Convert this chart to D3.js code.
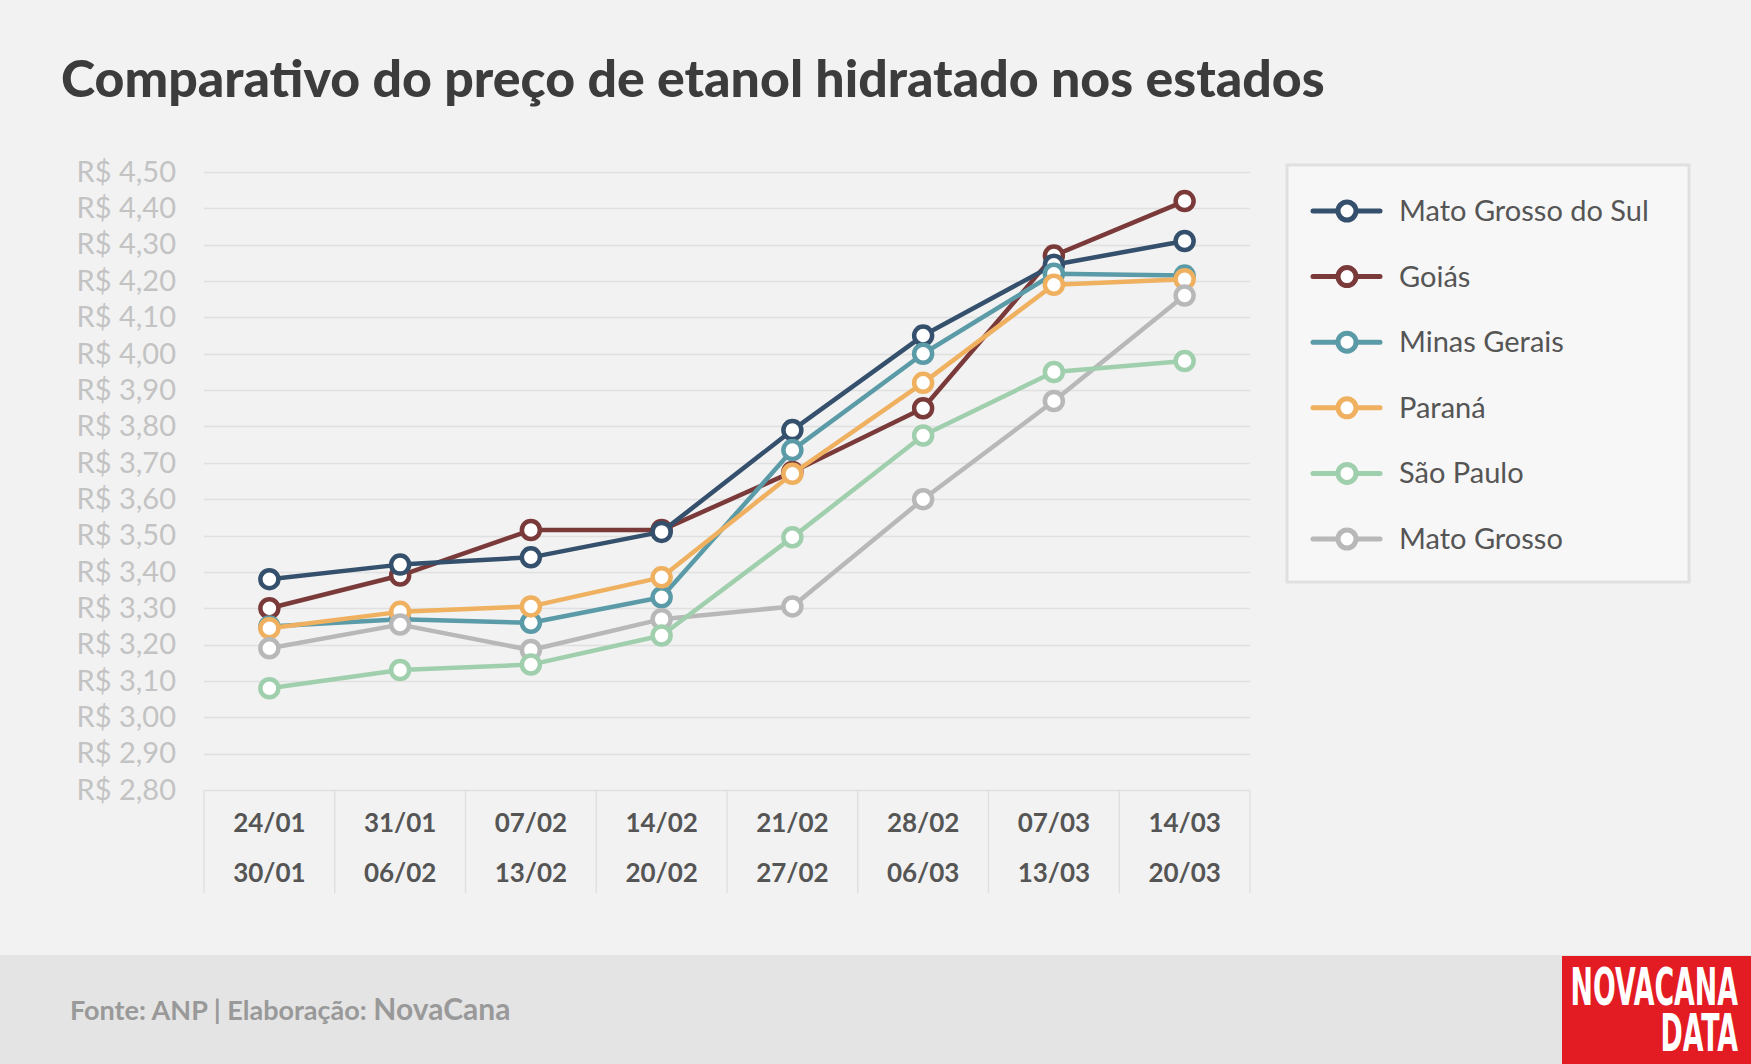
<!DOCTYPE html>
<html>
<head>
<meta charset="utf-8">
<script src="https://cdn.jsdelivr.net/npm/d3@7"></script>
<style>
  html, body { margin: 0; padding: 0; background: #f2f2f2; }
  svg { display: block; font-family: Lato, "Open Sans", sans-serif; }
</style>
</head>
<body>
<div id="chart"></div>
<script>
var w = 1751;
var h = 1064;

// categorias (semanas)
var weekStart = ["24/01", "31/01", "07/02", "14/02", "21/02", "28/02", "07/03", "14/03"];
var weekEnd = ["30/01", "06/02", "13/02", "20/02", "27/02", "06/03", "13/03", "20/03"];

// precos por estado (R$/litro)
var matoGrossoDoSul = [3.38, 3.42, 3.44, 3.51, 3.79, 4.05, 4.245, 4.31];
var goias = [3.30, 3.39, 3.515, 3.515, 3.675, 3.85, 4.27, 4.42];
var minasGerais = [3.25, 3.27, 3.26, 3.33, 3.735, 4.00, 4.22, 4.215];
var parana = [3.245, 3.29, 3.305, 3.385, 3.67, 3.92, 4.19, 4.205];
var saoPaulo = [3.08, 3.13, 3.145, 3.225, 3.495, 3.775, 3.95, 3.98];
var matoGrosso = [3.19, 3.255, 3.185, 3.27, 3.305, 3.60, 3.87, 4.16];

var yTicks = [2.8, 2.9, 3.0, 3.1, 3.2, 3.3, 3.4, 3.5, 3.6, 3.7, 3.8, 3.9, 4.0, 4.1, 4.2, 4.3, 4.4, 4.5];

var series = [
    {name: "Mato Grosso do Sul", values: matoGrossoDoSul, color: "#34506c"},
    {name: "Goiás", values: goias, color: "#7b3a3a"},
    {name: "Minas Gerais", values: minasGerais, color: "#5b9ba7"},
    {name: "Paraná", values: parana, color: "#efb05f"},
    {name: "São Paulo", values: saoPaulo, color: "#a0cfad"},
    {name: "Mato Grosso", values: matoGrosso, color: "#b8b8b8"}
];
// ordem de desenho (a ultima fica por cima)
var drawOrder = [1, 0, 2, 3, 5, 4];

var svg = d3.select("#chart").append("svg").attr("width", w).attr("height", h);
svg.append("rect").attr("width", w).attr("height", h).attr("fill", "#f2f2f2");

// titulo
svg.append("text")
    .attr("x", 61).attr("y", 97)
    .attr("font-size", 51.8).attr("font-weight", 900)
    .attr("fill", "#3c3c3c")
    .text("Comparativo do preço de etanol hidratado nos estados");

var x = d3.scaleBand().domain(weekStart).range([204, 1250]);
var y = d3.scaleLinear().domain([2.8, 4.5]).range([790, 172]);

// grade
svg.append("g").selectAll("line").data(yTicks).enter()
    .append("line")
    .attr("x1", 204).attr("x2", 1250)
    .attr("y1", function (d) { return Math.round(y(d)) + 0.5; })
    .attr("y2", function (d) { return Math.round(y(d)) + 0.5; })
    .attr("stroke", "#e0e0e0").attr("stroke-width", 1.5);

// eixo y
var yAxis = d3.axisLeft(y).tickValues(yTicks).tickSize(0).tickPadding(0)
    .tickFormat(function (d) { return "R$ " + d3.format(".2f")(d).replace(".", ","); });
var gy = svg.append("g").attr("transform", "translate(176,0)").call(yAxis);
gy.select(".domain").remove();
gy.selectAll("text")
    .attr("font-family", "Lato, sans-serif")
    .attr("font-size", 29).attr("fill", "#c3c3c3");

// eixo x (caixa com separadores)
var bounds = weekStart.map(function (d) { return x(d); }).concat([x.range()[1]]);
svg.append("g").selectAll("line").data(bounds).enter()
    .append("line")
    .attr("x1", function (d) { return d; }).attr("x2", function (d) { return d; })
    .attr("y1", 790).attr("y2", 893)
    .attr("stroke", "#e0e0e0").attr("stroke-width", 1.5);

var gx = svg.append("g");
gx.selectAll("text.l1").data(weekStart).enter().append("text")
    .attr("class", "l1")
    .attr("x", function (d) { return x(d) + x.bandwidth() / 2; })
    .attr("y", 832)
    .attr("text-anchor", "middle").attr("font-size", 26).attr("font-weight", 700)
    .attr("fill", "#555").text(function (d) { return d; });
gx.selectAll("text.l2").data(weekEnd).enter().append("text")
    .attr("class", "l2")
    .attr("x", function (d, i) { return x(weekStart[i]) + x.bandwidth() / 2; })
    .attr("y", 882)
    .attr("text-anchor", "middle").attr("font-size", 26).attr("font-weight", 700)
    .attr("fill", "#555").text(function (d) { return d; });

// linhas
var line = d3.line()
    .x(function (d, i) { return x(weekStart[i]) + x.bandwidth() / 2; })
    .y(function (d) { return y(d); });

drawOrder.forEach(function (k) {
    var s = series[k];
    var g = svg.append("g");
    g.append("path").datum(s.values)
        .attr("d", line).attr("fill", "none")
        .attr("stroke", s.color).attr("stroke-width", 4.5)
        .attr("stroke-linejoin", "round");
    g.selectAll("circle").data(s.values).enter().append("circle")
        .attr("cx", function (d, i) { return x(weekStart[i]) + x.bandwidth() / 2; })
        .attr("cy", function (d) { return y(d); })
        .attr("r", 9)
        .attr("fill", "#fff").attr("stroke", s.color).attr("stroke-width", 4.5);
});

// legenda
var legend = svg.append("g");
legend.append("rect")
    .attr("x", 1287).attr("y", 165).attr("width", 402).attr("height", 417)
    .attr("fill", "#f7f7f7").attr("stroke", "#e0e0e0").attr("stroke-width", 3);
var items = legend.selectAll("g.item").data(series).enter().append("g")
    .attr("class", "item")
    .attr("transform", function (d, i) { return "translate(0," + (211 + i * 65.6) + ")"; });
items.append("line")
    .attr("x1", 1313).attr("x2", 1380).attr("y1", 0).attr("y2", 0)
    .attr("stroke", function (d) { return d.color; }).attr("stroke-width", 5)
    .attr("stroke-linecap", "round");
items.append("circle")
    .attr("cx", 1347).attr("cy", 0).attr("r", 9)
    .attr("fill", "#fff").attr("stroke", function (d) { return d.color; }).attr("stroke-width", 5);
items.append("text")
    .attr("x", 1399).attr("y", 10)
    .attr("font-size", 29).attr("fill", "#555")
    .text(function (d) { return d.name; });

// rodape
svg.append("rect").attr("x", 0).attr("y", 955).attr("width", w).attr("height", 109)
    .attr("fill", "#e4e4e4");
var foot = svg.append("text").attr("x", 70).attr("y", 1020).attr("fill", "#999")
    .attr("font-weight", 700);
foot.append("tspan").attr("font-size", 27).text("Fonte: ANP | Elaboração: ");
foot.append("tspan").attr("font-size", 30).text("NovaCana");

// logo
svg.append("rect").attr("x", 1562).attr("y", 956).attr("width", 189).attr("height", 108)
    .attr("fill", "#e31b23");
var logo = svg.append("text")
    .attr("transform", "translate(1738,1005) scale(1,1.75)")
    .attr("text-anchor", "end")
    .attr("font-family", "'Liberation Sans Narrow', 'DejaVu Sans Condensed', sans-serif")
    .attr("font-weight", 700).attr("font-size", 29.8).attr("fill", "#fff");
logo.append("tspan").attr("x", 0).attr("y", 0).text("NOVACANA");
logo.append("tspan").attr("x", 0).attr("y", 26.5).text("DATA");
</script>
</body>
</html>
